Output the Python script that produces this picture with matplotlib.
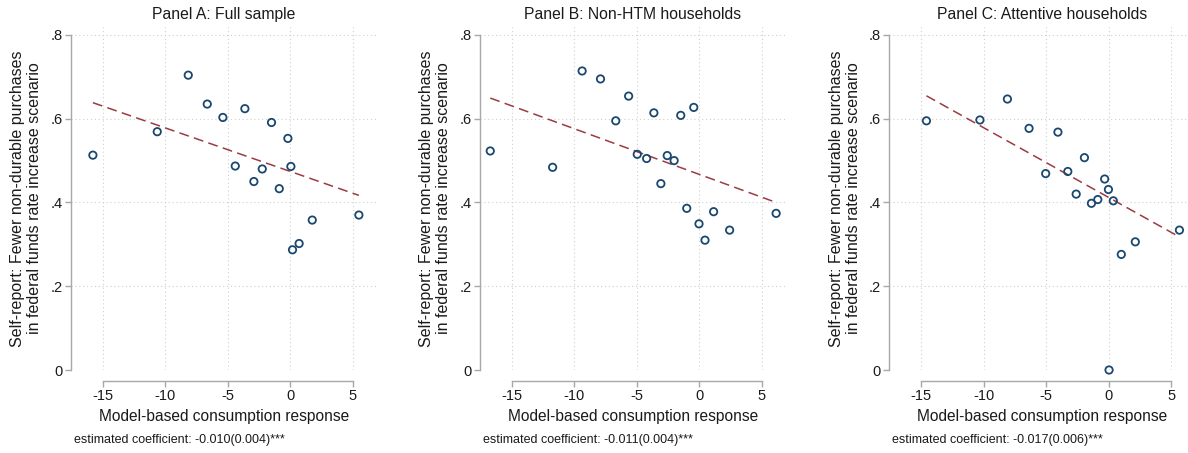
import numpy as np
import matplotlib
matplotlib.use('Agg')
import matplotlib.pyplot as plt

plt.rcParams['font.family'] = ['Liberation Sans', 'DejaVu Sans']
plt.rcParams['axes.unicode_minus'] = False

titles = ['Panel A: Full sample', 'Panel B: Non-HTM households', 'Panel C: Attentive households']
coef_text = ['estimated coefficient: -0.010(0.004)***',
             'estimated coefficient: -0.011(0.004)***',
             'estimated coefficient: -0.017(0.006)***']

# binned means: model-based response vs. share reporting fewer purchases
resp_a = [-15.8, -10.65, -8.17, -6.65, -5.4, -3.64, -4.41, -2.92, -2.25, -1.51, -0.89, -0.2, 0.04, 0.17, 0.70, 1.75, 5.48]
share_a = [0.513, 0.569, 0.704, 0.635, 0.603, 0.624, 0.487, 0.450, 0.480, 0.591, 0.433, 0.553, 0.486, 0.287, 0.302, 0.358, 0.370]

resp_b = [-16.73, -11.74, -9.38, -7.91, -6.69, -5.66, -4.97, -4.22, -3.64, -3.08, -2.57, -2.02, -1.49, -1.01, -0.45, -0.03, 0.45, 1.14, 2.42, 6.14]
share_b = [0.523, 0.484, 0.714, 0.695, 0.595, 0.654, 0.515, 0.505, 0.614, 0.445, 0.512, 0.500, 0.608, 0.386, 0.627, 0.349, 0.310, 0.378, 0.334, 0.374]

resp_c = [-14.58, -10.30, -8.10, -6.37, -5.04, -4.06, -3.27, -2.60, -1.94, -1.38, -0.87, -0.32, -0.02, 0.37, 0.03, 1.01, 2.13, 5.66]
share_c = [0.595, 0.597, 0.647, 0.577, 0.469, 0.568, 0.474, 0.420, 0.507, 0.398, 0.407, 0.456, 0.431, 0.404, 0.0, 0.276, 0.306, 0.334]

# linear fit: intercept, slope
fit_a = (0.474, -0.0104)
fit_b = (0.467, -0.0109)
fit_c = (0.412, -0.01665)

panels = [(resp_a, share_a, fit_a), (resp_b, share_b, fit_b), (resp_c, share_c, fit_c)]

W, H = 1188, 453
fig = plt.figure(figsize=(W / 100, H / 100), dpi=100)

lefts = [71, 480, 889.3]
ax_w, top_px, bot_px = 306, 27, 370

navy = '#1a476f'
maroon = '#9a3c42'
grey = '#a8a8a8'

for k in range(3):
    x, y, (b0, b1) = panels[k]
    ax = fig.add_axes([lefts[k] / W, (H - bot_px) / H, ax_w / W, (bot_px - top_px) / H])
    ax.set_xlim(-17.55, 6.93)
    ax.set_ylim(0, 0.819)

    ax.set_xticks([-15, -10, -5, 0, 5])
    ax.set_yticks([0, 0.2, 0.4, 0.6, 0.8])
    ax.set_yticklabels(['0', '.2', '.4', '.6', '.8'])
    ax.grid(True, color='#cfcfcf', linestyle=(0, (1, 2.5)), linewidth=0.8)
    ax.set_axisbelow(True)

    for s in ['top', 'right']:
        ax.spines[s].set_visible(False)
    ax.spines['left'].set_bounds(0, 0.8)
    ax.spines['bottom'].set_bounds(-15, 5)
    ax.spines['bottom'].set_position(('outward', 7.7))
    for s in ['left', 'bottom']:
        ax.spines[s].set_color(grey)
        ax.spines[s].set_linewidth(1.0)
    ax.tick_params(colors=grey, labelcolor='#1a1a1a', length=4, width=1.0, labelsize=10.5, pad=2)

    xs = np.array([min(x), max(x)])
    ax.plot(xs, b0 + b1 * xs, color=maroon, linewidth=1.1, dashes=(6.5, 3.5), zorder=2)
    ax.scatter(x, y, s=28, facecolors='none', edgecolors=navy, linewidths=1.3, zorder=3, clip_on=False)

    ax.set_title(titles[k], fontsize=11.3, pad=6, color='#1a1a1a')
    ax.set_xlabel('Model-based consumption response', fontsize=11.2, labelpad=4, color='#1a1a1a')
    ax.set_ylabel('Self-report: Fewer non-durable purchases\nin federal funds rate increase scenario',
                  fontsize=11.5, labelpad=6, color='#1a1a1a', linespacing=1.15)
    ax.text(0.01, -0.205, coef_text[k], transform=ax.transAxes, fontsize=9, color='#1a1a1a',
            ha='left', va='center')

fig.savefig('out.png', dpi=100, facecolor='white')
